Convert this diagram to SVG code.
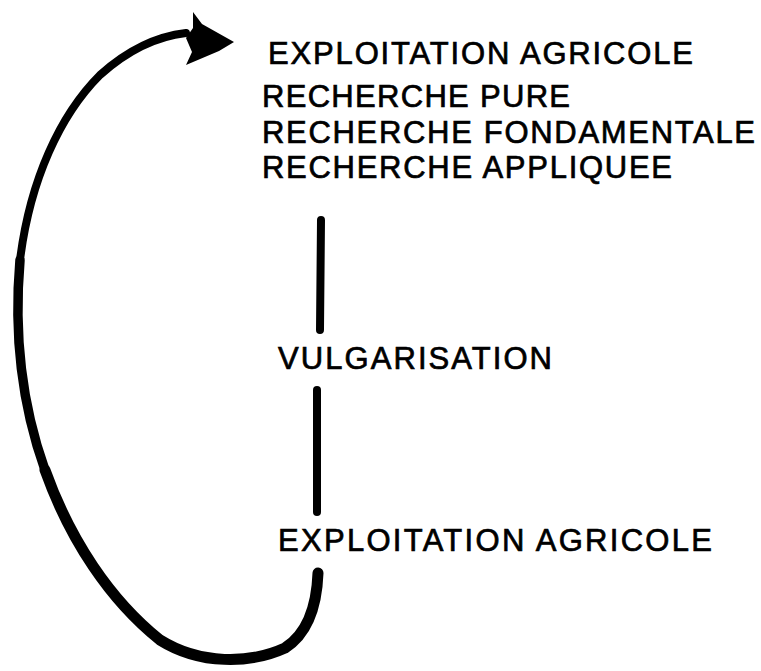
<svg xmlns="http://www.w3.org/2000/svg" width="761" height="671" viewBox="0 0 761 671">
<style>
  text { font-family: "Liberation Sans", Arial, sans-serif; font-size: 31px; fill: #000; stroke: #000; stroke-width: 0.7px; }
  .ink { fill: none; stroke: #000; stroke-linecap: round; stroke-linejoin: round; }
</style>
<rect width="761" height="671" fill="#fff"/>
<g id="top-block">
  <text x="268" y="64" textLength="425" lengthAdjust="spacing">EXPLOITATION AGRICOLE</text>
  <text x="262" y="107" textLength="308" lengthAdjust="spacing">RECHERCHE PURE</text>
  <text x="262" y="143" textLength="493" lengthAdjust="spacing">RECHERCHE FONDAMENTALE</text>
  <text x="262" y="178" textLength="410" lengthAdjust="spacing">RECHERCHE APPLIQUEE</text>
</g>
<g id="vulgarisation">
  <text x="278" y="369" textLength="274" lengthAdjust="spacing">VULGARISATION</text>
</g>
<g id="exploitation-bottom">
  <text x="278" y="551" textLength="434" lengthAdjust="spacing">EXPLOITATION AGRICOLE</text>
</g>
<g id="connectors">
  <path class="ink" stroke-width="8" d="M321,220 L320,330"/>
  <path class="ink" stroke-width="8" d="M317,390 L317,512"/>
  <path class="ink" stroke-width="8" d="M186,33 C160,36 130,48 100,75 C60,115 30,180 20,260"/>
  <path class="ink" stroke-width="9.5" d="M20,260 C14,330 20,400 45,470"/>
  <path class="ink" stroke-width="11" d="M45,470 C70,540 110,600 160,640 C200,665 250,664 285,648 C310,632 317,600 318,573"/>
  <polygon fill="#000" points="193,12 202,24 234,42 219,51 186,65 192,52 186,38 193,28"/>
</g>
</svg>
